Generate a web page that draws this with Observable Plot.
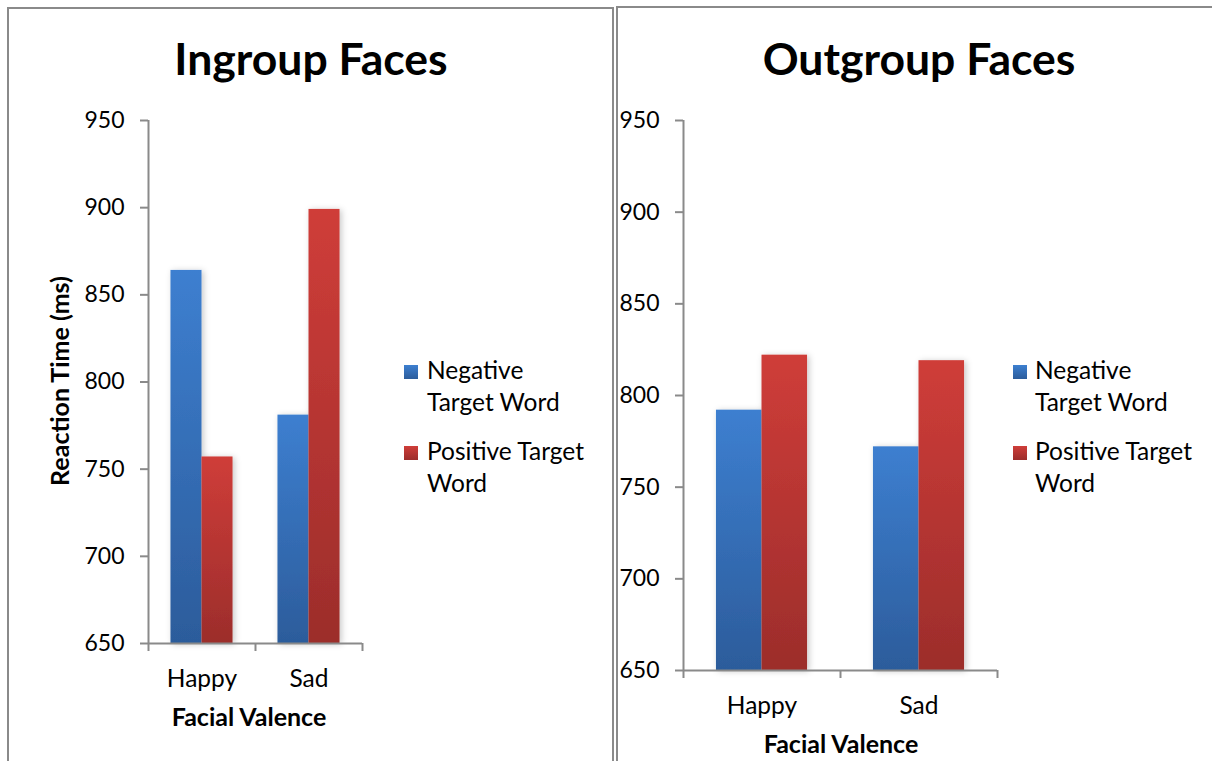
<!DOCTYPE html>
<html>
<head>
<meta charset="utf-8">
<script src="https://cdn.jsdelivr.net/npm/d3@7"></script>
<script src="https://cdn.jsdelivr.net/npm/@observablehq/plot@0.6"></script>
<style>
  html, body { margin: 0; padding: 0; background: #fff; }
  body { width: 1212px; height: 761px; position: relative; overflow: hidden; font-family: Lato, "Open Sans", sans-serif; }
  .panel { position: absolute; box-sizing: border-box; border-color: #8a8a8a; border-style: solid; border-width: 0; }
  .chart { position: absolute; top: 0; }
  #overlay { position: absolute; left: 0; top: 0; pointer-events: none; }
</style>
</head>
<body>
<div class="panel" style="left:7px; top:7px; width:607px; height:800px; border-left-width:2px; border-top-width:2px; border-right-width:2px;"></div>
<div class="panel" style="left:616px; top:6px; width:700px; height:800px; border-left-width:2px; border-top-width:2px;"></div>
<div id="left" class="chart" style="left:0px"></div>
<div id="right" class="chart" style="left:612px"></div>
<svg id="overlay" width="1212" height="761" font-family="Lato, 'Open Sans', sans-serif"></svg>
<script>
// ---- data ----
const categories = ["Happy", "Sad"];
const seriesNames = ["Negative Target Word", "Positive Target Word"];
const ingroupNegative = [864, 781];
const ingroupPositive = [757, 899];
const outgroupNegative = [792, 772];
const outgroupPositive = [822, 819];
const yTicks = [650, 700, 750, 800, 850, 900, 950];
const panelTitles = ["Ingroup Faces", "Outgroup Faces"];
const xTitle = "Facial Valence";
const yTitle = "Reaction Time (ms)";

const gradients = {
  neg: ["#3d7fd0", "#2c5c9b"],
  pos: ["#cf3d39", "#9c2d2b"]
};

function rows(neg, pos) {
  const out = [];
  categories.forEach((c, i) => {
    out.push({cat: c, i, series: seriesNames[0], key: "neg", value: neg[i]});
    out.push({cat: c, i, series: seriesNames[1], key: "pos", value: pos[i]});
  });
  return out;
}

function makeChart({data, marginLeft, marginRight, marginBottom, labelPadding}) {
  const svg = Plot.plot({
    width: 600,
    height: 761,
    marginTop: 120,
    marginLeft,
    marginRight,
    marginBottom,
    style: {fontFamily: "Lato, 'Open Sans', sans-serif", fontSize: "23px", color: "black", background: "transparent", overflow: "visible"},
    x: {domain: [0, categories.length], axis: null},
    y: {domain: [650, 950], axis: null},
    marks: [
      Plot.rectY(data, {
        x1: d => d.i + (d.key === "neg" ? 0.21 : 0.5),
        x2: d => d.i + (d.key === "neg" ? 0.5 : 0.79),
        y1: 650,
        y2: "value",
        fill: d => `url(#grad-${d.key})`
      }),
      Plot.ruleX([0], {y1: 650, y2: 950, stroke: "#8a8a8a", strokeWidth: 2}),
      Plot.ruleY([650], {x1: 0, x2: categories.length, stroke: "#8a8a8a", strokeWidth: 2}),
      Plot.axisY({ticks: yTicks, tickSize: 8, tickPadding: 16, stroke: "#8a8a8a", strokeWidth: 2, fill: "black", fontSize: 23, label: null}),
      Plot.axisX({ticks: d3.range(categories.length + 1), tickSize: 8, tickFormat: () => "", stroke: "#8a8a8a", strokeWidth: 2, label: null}),
      Plot.axisX({ticks: categories.map((c, i) => i + 0.5), tickSize: 0, tickPadding: labelPadding, tickFormat: t => categories[Math.floor(t)], fill: "black", fontSize: 24.5, label: null})
    ]
  });
  // gradient + shadow defs
  const ns = "http://www.w3.org/2000/svg";
  const defs = document.createElementNS(ns, "defs");
  for (const [k, [c1, c2]] of Object.entries(gradients)) {
    const g = document.createElementNS(ns, "linearGradient");
    g.setAttribute("id", `grad-${k}`);
    g.setAttribute("x1", "0"); g.setAttribute("y1", "0"); g.setAttribute("x2", "0"); g.setAttribute("y2", "1");
    [[0, c1], [1, c2]].forEach(([o, c]) => {
      const s = document.createElementNS(ns, "stop");
      s.setAttribute("offset", o); s.setAttribute("stop-color", c);
      g.appendChild(s);
    });
    defs.appendChild(g);
  }
  const f = document.createElementNS(ns, "filter");
  f.setAttribute("id", "barShadow");
  f.setAttribute("x", "-30%"); f.setAttribute("y", "-10%"); f.setAttribute("width", "160%"); f.setAttribute("height", "120%");
  f.innerHTML = '<feDropShadow dx="2" dy="1" stdDeviation="3" flood-color="#000" flood-opacity="0.22"/>';
  defs.appendChild(f);
  svg.insertBefore(defs, svg.firstChild);
  const rectGroup = svg.querySelector('g[aria-label="rect"]');
  if (rectGroup) rectGroup.setAttribute("filter", "url(#barShadow)");
  return svg;
}

document.getElementById("left").appendChild(makeChart({
  data: rows(ingroupNegative, ingroupPositive),
  marginLeft: 148, marginRight: 600 - 362, marginBottom: 761 - 643, labelPadding: 26
}));
document.getElementById("right").appendChild(makeChart({
  data: rows(outgroupNegative, outgroupPositive),
  marginLeft: 683 - 612, marginRight: 612 + 600 - 997, marginBottom: 761 - 670, labelPadding: 26
}));

// ---- text overlay: titles, axis titles, legends ----
const ov = d3.select("#overlay");
ov.append("text").attr("x", 311).attr("y", 75).attr("text-anchor", "middle").attr("font-weight", 700).attr("font-size", 44.5).text(panelTitles[0]);
ov.append("text").attr("x", 919).attr("y", 75).attr("text-anchor", "middle").attr("font-weight", 700).attr("font-size", 44.5).text(panelTitles[1]);
ov.append("text").attr("x", 249).attr("y", 726).attr("text-anchor", "middle").attr("font-weight", 700).attr("font-size", 25).text(xTitle);
ov.append("text").attr("x", 841).attr("y", 753).attr("text-anchor", "middle").attr("font-weight", 700).attr("font-size", 25).text(xTitle);
ov.append("text").attr("transform", "translate(69,381) rotate(-90)").attr("text-anchor", "middle").attr("font-weight", 700).attr("font-size", 25).text(yTitle);

// legend gradient defs for overlay
const odefs = ov.append("defs");
for (const [k, [c1, c2]] of Object.entries(gradients)) {
  const g = odefs.append("linearGradient").attr("id", `lg-${k}`).attr("x1", 0).attr("y1", 0).attr("x2", 0).attr("y2", 1);
  g.append("stop").attr("offset", 0).attr("stop-color", c1);
  g.append("stop").attr("offset", 1).attr("stop-color", c2);
}
const legendLines = [["Negative", "Target Word"], ["Positive Target", "Word"]];
const legendKeys = ["neg", "pos"];
[[404, 427], [1013, 1035]].forEach(([sx, tx]) => {
  legendLines.forEach((lines, j) => {
    const top = 379 + j * 81;
    ov.append("rect").attr("x", sx).attr("y", top - 14).attr("width", 14).attr("height", 14).attr("fill", `url(#lg-${legendKeys[j]})`);
    lines.forEach((ln, k) => {
      ov.append("text").attr("x", tx).attr("y", top + k * 32).attr("font-size", 24.5).text(ln);
    });
  });
});
</script>
</body>
</html>
